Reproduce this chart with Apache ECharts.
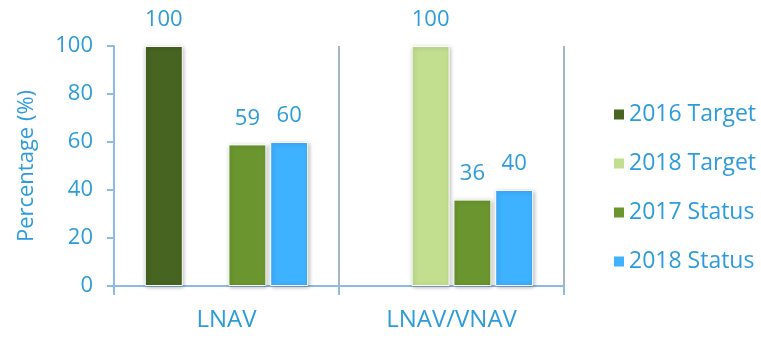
<!DOCTYPE html>
<html>
<head>
<meta charset="utf-8">
<script src="https://cdn.jsdelivr.net/npm/echarts@6/dist/echarts.min.js"></script>
<style>
  html, body { margin: 0; padding: 0; background: #fff; }
  #chart { width: 761px; height: 338px; }
</style>
</head>
<body>
<div id="chart"></div>
<script>
// Approach types on the x axis
const categories = ['LNAV', 'LNAV/VNAV'];

// Percentage of procedures per approach type
const target2016 = [100, '-'];
const target2018 = ['-', 100];
const status2017 = [59, 36];
const status2018 = [60, 40];

const yTicks = [0, 20, 40, 60, 80, 100];

const seriesNames = ['2016 Target', '2018 Target', '2017 Status', '2018 Status'];
const seriesColors = ['#476421', '#c2df90', '#6b962f', '#3eb1ff'];

const textBlue = '#2d9cdb';
const axisBlue = '#8dbbe3';
const font = '"Open Sans"';

function bar(name, data, color) {
  return {
    name: name,
    type: 'bar',
    data: data,
    barWidth: 38,
    barGap: '10%',
    itemStyle: {
      color: color,
      borderColor: '#ffffff',
      borderWidth: 1,
      shadowColor: 'rgba(0,0,0,0.28)',
      shadowBlur: 4,
      shadowOffsetX: 1,
      shadowOffsetY: 1
    },
    label: {
      show: true,
      position: 'top',
      distance: 15,
      color: textBlue,
      fontFamily: font,
      fontSize: 22
    }
  };
}

const chart = echarts.init(document.getElementById('chart'));
chart.setOption({
  animation: false,
  textStyle: { fontFamily: font },
  grid: { left: 114, right: 197, top: 46, bottom: 52 },
  legend: {
    orient: 'vertical',
    left: 607,
    top: 98,
    itemWidth: 12,
    itemHeight: 12,
    itemGap: 26,
    icon: 'rect',
    data: seriesNames,
    textStyle: { color: textBlue, fontSize: 23, fontFamily: font, padding: [0, 0, 0, -1] }
  },
  xAxis: {
    type: 'category',
    data: categories,
    axisLine: { lineStyle: { color: axisBlue, width: 2 } },
    axisTick: { show: true, length: 9, lineStyle: { color: axisBlue, width: 2 } },
    splitLine: { show: true, lineStyle: { color: '#a3b6c4', width: 2 } },
    axisLabel: { color: textBlue, fontSize: 24, fontFamily: font, margin: 22 }
  },
  yAxis: {
    type: 'value',
    min: 0,
    max: 100,
    interval: 20,
    name: 'Percentage (%)',
    nameLocation: 'middle',
    nameGap: 76,
    nameTextStyle: { color: textBlue, fontSize: 22, fontFamily: font },
    axisLine: { show: true, lineStyle: { color: axisBlue, width: 2 } },
    axisTick: { show: true, length: 7, lineStyle: { color: axisBlue, width: 2 } },
    splitLine: { show: false },
    axisLabel: {
      color: textBlue, fontSize: 22, fontFamily: font, margin: 21,
      formatter: v => (yTicks.indexOf(v) >= 0 ? String(v) : '')
    }
  },
  series: [
    bar(seriesNames[0], target2016, seriesColors[0]),
    bar(seriesNames[1], target2018, seriesColors[1]),
    bar(seriesNames[2], status2017, seriesColors[2]),
    bar(seriesNames[3], status2018, seriesColors[3])
  ]
});
</script>
</body>
</html>
